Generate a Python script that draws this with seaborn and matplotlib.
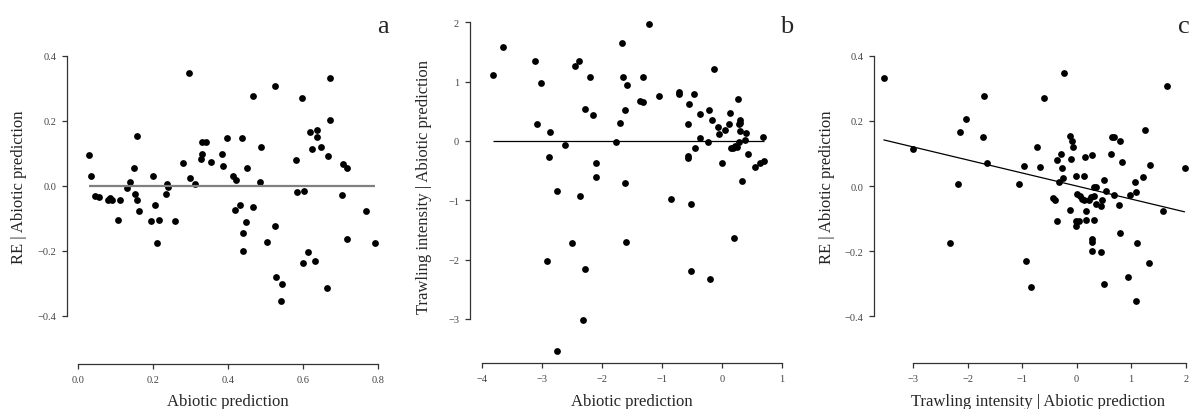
import numpy as np
import pandas as pd
import matplotlib
matplotlib.use("Agg")
import matplotlib.pyplot as plt
import seaborn as sns

# panel a: RE | abiotic vs abiotic prediction
a_x = [0.028, 0.033, 0.044, 0.056, 0.078, 0.084, 0.089, 0.106, 0.112, 0.129,
       0.138, 0.148, 0.151, 0.156, 0.156, 0.161, 0.195, 0.200, 0.204, 0.211,
       0.216, 0.233, 0.236, 0.240, 0.258, 0.278, 0.294, 0.299, 0.311, 0.327,
       0.331, 0.331, 0.340, 0.353, 0.382, 0.387, 0.396, 0.412, 0.418, 0.421,
       0.431, 0.436, 0.439, 0.439, 0.446, 0.451, 0.466, 0.467, 0.484, 0.488,
       0.502, 0.524, 0.524, 0.527, 0.540, 0.543, 0.580, 0.584, 0.597, 0.600,
       0.602, 0.612, 0.618, 0.624, 0.632, 0.636, 0.636, 0.646, 0.662, 0.666,
       0.670, 0.670, 0.704, 0.707, 0.716, 0.717, 0.766, 0.792]
a_y = [0.094, 0.029, -0.031, -0.036, -0.043, -0.038, -0.044, -0.107, -0.045, -0.006,
       0.010, 0.056, -0.027, 0.153, -0.045, -0.079, -0.108, 0.030, -0.058, -0.175,
       -0.107, -0.027, 0.005, -0.003, -0.110, 0.069, 0.347, 0.024, 0.004, 0.082,
       0.097, 0.136, 0.136, 0.073, 0.097, 0.062, 0.148, 0.031, -0.075, 0.017,
       -0.058, 0.148, -0.146, -0.201, -0.111, 0.053, -0.064, 0.277, 0.012, 0.120,
       -0.173, 0.306, -0.123, -0.280, -0.355, -0.303, 0.079, -0.019, 0.271, -0.237,
       -0.016, -0.205, 0.165, 0.113, -0.233, 0.171, 0.149, 0.118, -0.314, 0.090,
       0.330, 0.203, -0.029, 0.067, 0.055, -0.165, -0.077, -0.175]

# panel b: trawling | abiotic vs abiotic prediction
b_x = [-3.82, -3.64, -3.11, -3.08, -3.02, -2.91, -2.88, -2.86, -2.75, -2.74,
       -2.62, -2.50, -2.44, -2.38, -2.36, -2.31, -2.28, -2.28, -2.19, -2.14,
       -2.09, -2.09, -1.77, -1.69, -1.67, -1.65, -1.62, -1.61, -1.60, -1.58,
       -1.37, -1.31, -1.31, -1.22, -1.04, -0.84, -0.71, -0.71, -0.57, -0.57,
       -0.56, -0.54, -0.52, -0.52, -0.47, -0.44, -0.36, -0.36, -0.23, -0.22,
       -0.19, -0.17, -0.13, -0.07, -0.04, 0.01, 0.05, 0.12, 0.14, 0.16,
       0.19, 0.21, 0.22, 0.25, 0.27, 0.29, 0.29, 0.31, 0.31, 0.31,
       0.34, 0.38, 0.40, 0.43, 0.55, 0.64, 0.70, 0.69]
b_y = [1.11, 1.59, 1.34, 0.29, 0.97, -2.03, -0.27, 0.16, -0.85, -3.54,
       -0.06, -1.72, 1.26, 1.34, -0.93, -3.01, 0.54, -2.16, 1.08, 0.44,
       -0.37, -0.60, -0.02, 0.30, 1.66, 1.08, -0.71, 0.52, -1.71, 0.95,
       0.68, 0.66, 1.08, 1.97, 0.76, -0.97, 0.83, 0.80, 0.29, -0.26,
       -0.29, 0.63, -1.07, -2.19, 0.79, -0.12, 0.46, 0.05, -0.01, 0.52,
       -2.33, 0.36, 1.21, 0.24, 0.11, -0.37, 0.19, 0.29, 0.47, -0.12,
       -0.11, -1.64, -0.08, -0.10, 0.70, 0.29, -0.02, 0.36, 0.31, 0.17,
       -0.68, 0.01, 0.13, -0.22, -0.44, -0.37, -0.33, 0.07]

# panel c: RE | abiotic vs trawling | abiotic
c_x = [-3.54, -3.00, -2.33, -2.18, -2.15, -2.03, -1.72, -1.71, -1.64, -1.06,
       -0.97, -0.93, -0.84, -0.72, -0.68, -0.60, -0.44, -0.39, -0.37, -0.36,
       -0.33, -0.29, -0.27, -0.25, -0.23, -0.12, -0.12, -0.11, -0.08, -0.06,
       -0.02, -0.02, -0.01, 0.00, 0.04, 0.06, 0.09, 0.13, 0.13, 0.16,
       0.17, 0.18, 0.23, 0.27, 0.28, 0.28, 0.29, 0.29, 0.31, 0.31,
       0.31, 0.35, 0.36, 0.44, 0.45, 0.47, 0.51, 0.51, 0.54, 0.63,
       0.65, 0.68, 0.69, 0.77, 0.79, 0.80, 0.83, 0.94, 0.97, 1.07,
       1.08, 1.08, 1.10, 1.22, 1.25, 1.33, 1.34, 1.59, 1.65, 1.98]
c_y = [0.331, 0.113, -0.174, 0.006, 0.166, 0.205, 0.149, 0.277, 0.070, 0.006,
       0.061, -0.230, -0.311, 0.121, 0.057, 0.271, -0.037, -0.044, 0.080, -0.108,
       0.011, 0.097, 0.056, 0.025, 0.347, 0.153, -0.074, 0.084, 0.138, 0.120,
       -0.106, -0.123, 0.031, -0.025, -0.108, -0.032, -0.040, -0.044, 0.031, 0.090,
       -0.105, -0.078, -0.044, -0.033, 0.094, -0.162, -0.172, -0.200, -0.004, -0.105,
       -0.030, -0.002, -0.056, -0.203, -0.062, -0.043, 0.017, -0.302, -0.015, 0.098,
       0.149, 0.149, -0.027, -0.057, 0.137, -0.144, 0.074, -0.278, -0.027, 0.013,
       -0.018, -0.353, -0.174, 0.029, 0.172, -0.235, 0.065, -0.076, 0.306, 0.054]

sns.set_style("ticks")
plt.rcParams['font.family'] = ['Liberation Serif', 'DejaVu Serif']

W, H = 1198, 410
fig = plt.figure(figsize=(W / 100, H / 100), dpi=100)


def make_axes(left, right, top, bottom):
    return fig.add_axes([left / W, 1 - bottom / H, (right - left) / W, (bottom - top) / H])


def style(ax, xlim, ylim, xb, yb, xt, yt, xlab, ylab, px, lab_x, lab_y, letter, letter_pos):
    ax.set_xlim(*xlim)
    ax.set_ylim(*ylim)
    for s in ["top", "right"]:
        ax.spines[s].set_visible(False)
    for s in ["left", "bottom"]:
        ax.spines[s].set_color("#333333")
        ax.spines[s].set_linewidth(0.9)
    ax.spines["bottom"].set_bounds(*xb)
    ax.spines["left"].set_bounds(*yb)
    ax.set_xticks(xt)
    ax.set_yticks(yt)
    ax.tick_params(direction="out", length=3.8, width=0.9, color="#333333",
                   labelsize=7.5, labelcolor="#444444", pad=4)
    ax.set_xlabel(xlab, fontsize=12)
    ax.set_ylabel(ylab, fontsize=12)
    l, r, t, b = px
    ax.xaxis.set_label_coords((lab_x[0] - l) / (r - l), (b - lab_x[1]) / (b - t))
    ax.xaxis.label.set_va("center")
    ax.yaxis.set_label_coords((lab_y[0] - l) / (r - l), (b - lab_y[1]) / (b - t))
    ax.yaxis.label.set_va("center")
    fig.text(letter_pos[0] / W, 1 - letter_pos[1] / H, letter, fontsize=19,
             ha="center", va="baseline")


# panel a
pa = (67, 388, 45, 365)
ax1 = make_axes(*pa)
ax1.hlines(0, min(a_x), max(a_x), color="#808080", lw=1.6)
sns.scatterplot(x=a_x, y=a_y, color="k", s=24, linewidth=0, ax=ax1)
style(ax1, (-0.0301, 0.826), (-0.5486, 0.436), (0, 0.8), (-0.4, 0.4),
      [0, 0.2, 0.4, 0.6, 0.8], [-0.4, -0.2, 0, 0.2, 0.4],
      "Abiotic prediction", "RE | Abiotic prediction",
      pa, (228, 402), (19, 187), "a", (383, 33))
ax1.set_xticklabels(["0.0", "0.2", "0.4", "0.6", "0.8"])
ax1.set_yticklabels(["\u22120.4", "\u22120.2", "0.0", "0.2", "0.4"], rotation=0)

# panel b
pb = (470, 790, 18, 364)
ax2 = make_axes(*pb)
ax2.hlines(0, min(b_x), max(b_x), color="k", lw=0.9)
sns.scatterplot(x=b_x, y=b_y, color="k", s=24, linewidth=0, ax=ax2)
style(ax2, (-4.195, 1.138), (-3.742, 2.09), (-4, 1), (-3, 2),
      [-4, -3, -2, -1, 0, 1], [-3, -2, -1, 0, 1, 2],
      "Abiotic prediction", "Trawling intensity | Abiotic prediction",
      pb, (632, 402), (424, 187), "b", (787, 33))

# panel c
pc = (874, 1192, 45, 364)
ax3 = make_axes(*pc)
sns.regplot(x=c_x, y=c_y, ci=None, scatter=False, ax=ax3,
            line_kws=dict(color="k", lw=0.9))
sns.scatterplot(x=c_x, y=c_y, color="k", s=24, linewidth=0, ax=ax3)
style(ax3, (-3.721, 2.117), (-0.5433, 0.4359), (-3, 2), (-0.4, 0.4),
      [-3, -2, -1, 0, 1, 2], [-0.4, -0.2, 0, 0.2, 0.4],
      "Trawling intensity | Abiotic prediction", "RE | Abiotic prediction",
      pc, (1038, 402), (827, 187), "c", (1184, 33))
ax3.set_yticklabels(["\u22120.4", "\u22120.2", "0.0", "0.2", "0.4"])

fig.savefig("out.png", dpi=100)
